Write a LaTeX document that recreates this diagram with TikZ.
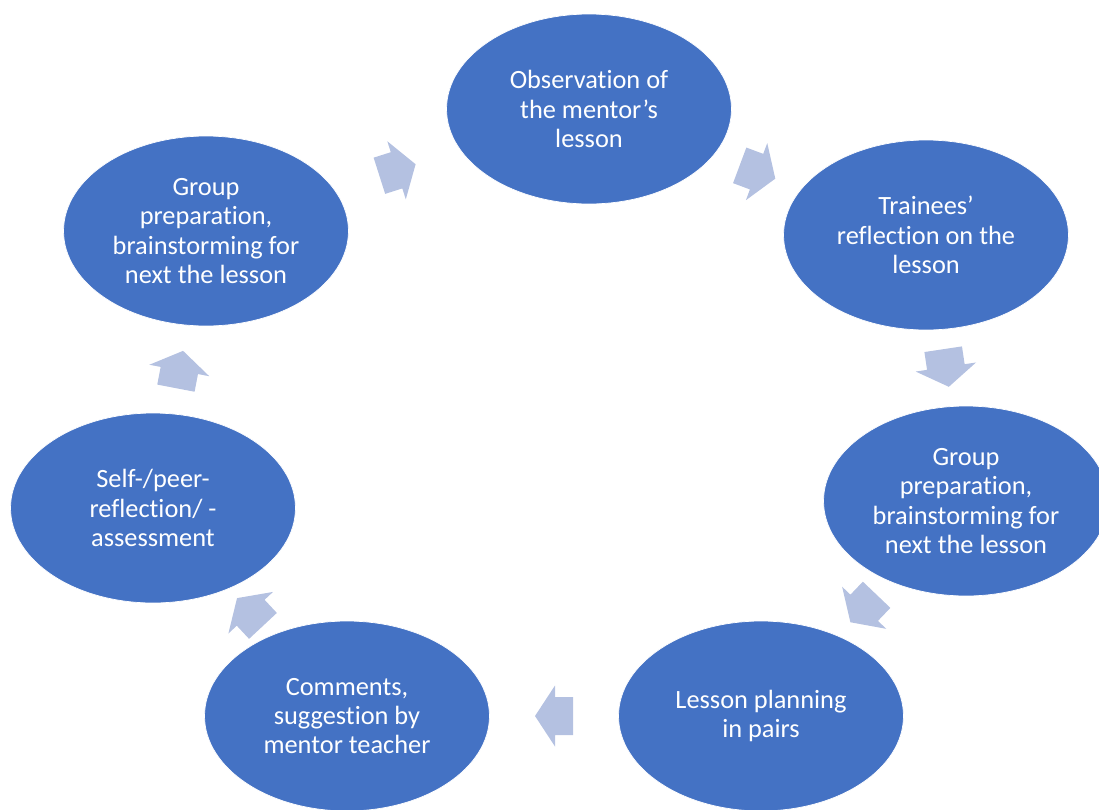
\documentclass[tikz,border=0pt]{standalone}
\usepackage{fontspec}
\setmainfont{Carlito}[Ligatures=NoCommon]
\usetikzlibrary{calc}
\usetikzlibrary{shapes.geometric}
\definecolor{stageblue}{HTML}{4472C4}
\definecolor{arrowblue}{HTML}{B4C1E1}

\begin{document}
\begin{tikzpicture} [x=0.02cm, y=0.02cm,
  stage/.style={ellipse, fill=stageblue, draw=white, thin, minimum width=5.7cm, minimum height=3.8cm, inner sep=0pt, text=white, align=center, font=\fontsize{15}{16.7}\selectfont},
  cyclearrow/.pic={\fill[arrowblue] (-19,-19) --(-1,-19) --(-1,-30.5) --(19,0) --(-1,30.5) --(-1,19) --(-19,19) -- cycle;}]
\useasboundingbox (0,0) rectangle (1099,-809);
\clip (0,0) rectangle (1099,-809);
\node[stage] (observe) at (589,-109) {Observation of\\the mentor’s\\lesson};
\node[stage] (reflect) at (926,-235) {Trainees’\\reflection on the\\lesson};
\node[stage] (prepright) at (966,-501) {Group\\preparation,\\brainstorming for\\next the lesson};
\node[stage] (plan) at (761,-716) {Lesson planning\\in pairs};
\node[stage] (comment) at (347,-716) {Comments,\\suggestion by\\mentor teacher};
\node[stage] (assess) at (153,-508) {Self-/peer-\\reflection/ -\\assessment};
\node[stage] (prepleft) at (206,-231) {Group\\preparation,\\brainstorming for\\next the lesson};
\foreach \a/\b in {prepleft/observe, observe/reflect, reflect/prepright, prepright/plan, plan/comment, comment/assess, assess/prepleft} {
 \path let \p1=($(\b)-(\a)$), \n1={atan2(\y1,\x1)} in pic[rotate=\n1] at ($(\a)!0.5!(\b)$) {cyclearrow};
}
\end{tikzpicture}
\end{document}
